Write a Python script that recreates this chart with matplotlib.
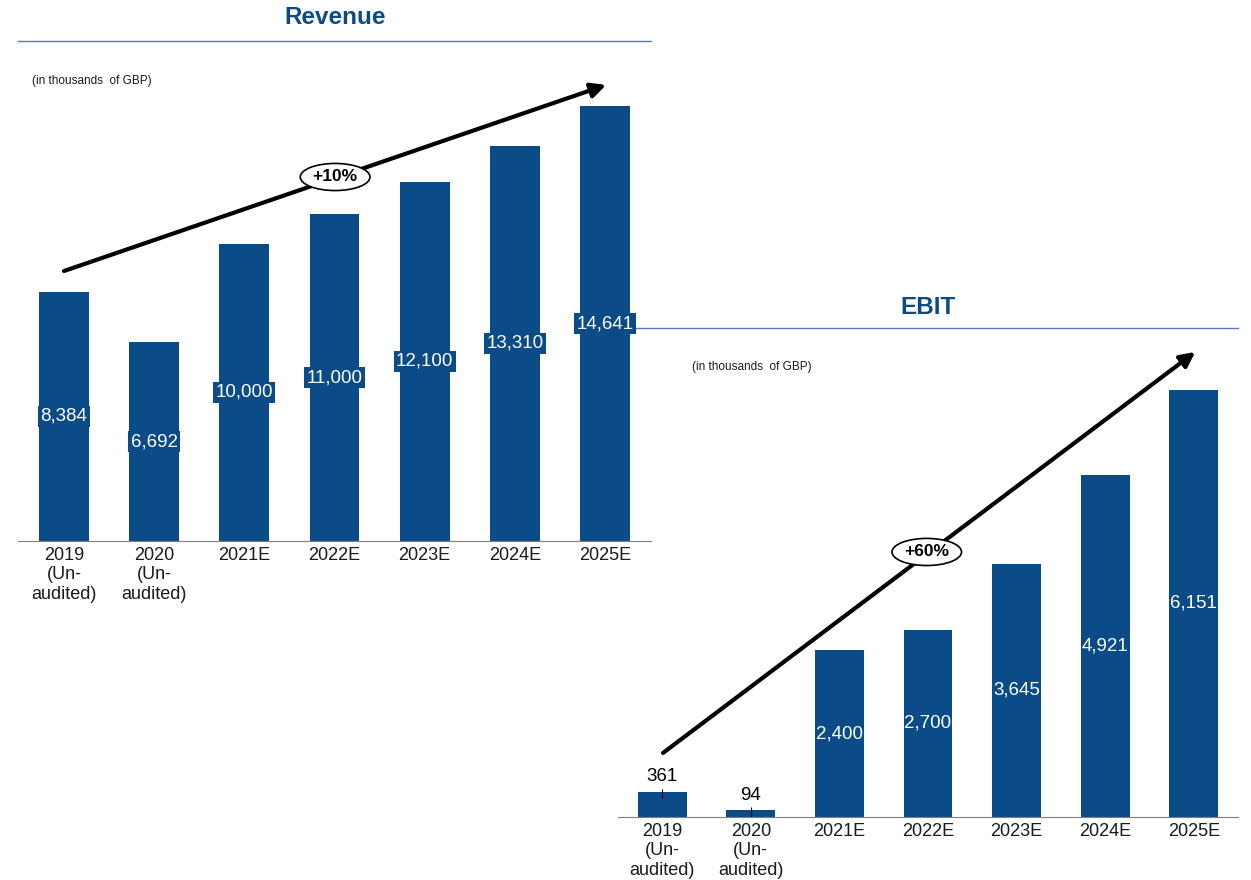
import matplotlib
matplotlib.use('Agg')
import matplotlib.pyplot as plt

plt.rcParams['font.family'] = ['Liberation Sans', 'DejaVu Sans']

# ---- data (thousands of GBP) ----
years = ['2019\n(Un-\naudited)', '2020\n(Un-\naudited)', '2021E', '2022E', '2023E', '2024E', '2025E']
revenue = [8384, 6692, 10000, 11000, 12100, 13310, 14641]
ebit = [361, 94, 2400, 2700, 3645, 4921, 6151]
revenue_growth = '+10%'
ebit_growth = '+60%'

BLUE = '#0b4c88'
LINE = '#4f7fae'
W, H = 1251, 880

fig = plt.figure(figsize=(W/100, H/100), dpi=100)

def px_axes(x0, x1, ytop, ybase):
    return fig.add_axes([x0/W, (H-ybase)/H, (x1-x0)/W, (ybase-ytop)/H])

def style(ax, ymax):
    ax.set_facecolor('none')
    ax.set_xlim(-0.51, 6.51)
    ax.set_ylim(0, ymax)
    for s in ('left', 'right'):
        ax.spines[s].set_visible(False)
    ax.spines['bottom'].set_color('#7f7f7f')
    ax.spines['top'].set_color(LINE)
    ax.spines['top'].set_linewidth(1.0)
    ax.set_yticks([])
    ax.set_xticks(range(len(years)))
    ax.set_xticklabels(years, fontsize=13, color='#1a1a1a', linespacing=1.2)
    ax.tick_params(axis='x', length=0, pad=4)

def growth_arrow(ax, start, end, label, mid):
    ax.annotate('', xy=end, xytext=start, xycoords='axes fraction',
                arrowprops=dict(arrowstyle='-|>', lw=3, color='black',
                                mutation_scale=22, shrinkA=0, shrinkB=0))
    ax.text(mid[0], mid[1], label, transform=ax.transAxes, ha='center', va='center',
            fontsize=12.5, fontweight='bold',
            bbox=dict(boxstyle='ellipse,pad=0.12', fc='white', ec='black', lw=1.2))

# ============================ EBIT (bottom right) ============================
ax2 = px_axes(618, 1238, 328, 817)
style(ax2, 7044)
ax2.set_xlim(-0.5, 6.5)
x = range(len(ebit))
ax2.bar(x, ebit, width=0.553, color=BLUE, zorder=2)
for i, v in enumerate(ebit):
    txt = f'{v:,}'
    if v < 1000:
        ax2.vlines(i, v - 90, v + 45, color='black', lw=0.8, zorder=3)
        ax2.annotate(txt, xy=(i, v), xytext=(0, 5), textcoords='offset points',
                     ha='center', va='bottom', fontsize=13.5, color='black')
    else:
        ax2.text(i, v/2, txt, ha='center', va='center', fontsize=13.5, color='white', zorder=3)
ax2.text(0.119, 0.92, '(in thousands  of GBP)', transform=ax2.transAxes,
         fontsize=8.5, ha='left', va='center', color='#1a1a1a')
growth_arrow(ax2, (0.0726, 0.131), (0.931, 0.951), ebit_growth, (0.498, 0.542))
fig.text(928/W, (H-307)/H, 'EBIT', ha='center', va='center',
         fontsize=17.5, fontweight='bold', color=BLUE)

# ============================ Revenue (top left) ============================
ax1 = px_axes(18, 651, 41, 541)
style(ax1, 16829)
ax1.set_zorder(ax2.get_zorder() + 1)
ax1.bar(x, revenue, width=0.554, color=BLUE, zorder=2)
for i, v in enumerate(revenue):
    ax1.text(i, v/2, f'{v:,}', ha='center', va='center', fontsize=13.5, color='white', zorder=3,
             bbox=dict(boxstyle='square,pad=0.12', fc=BLUE, ec='none'))
ax1.text(0.022, 0.92, '(in thousands  of GBP)', transform=ax1.transAxes,
         fontsize=8.5, ha='left', va='center', color='#1a1a1a')
growth_arrow(ax1, (0.0727, 0.54), (0.929, 0.912), revenue_growth, (0.501, 0.728))
fig.text(335/W, (H-18)/H, 'Revenue', ha='center', va='center',
         fontsize=17.5, fontweight='bold', color=BLUE)

fig.savefig('out.png', dpi=100)
